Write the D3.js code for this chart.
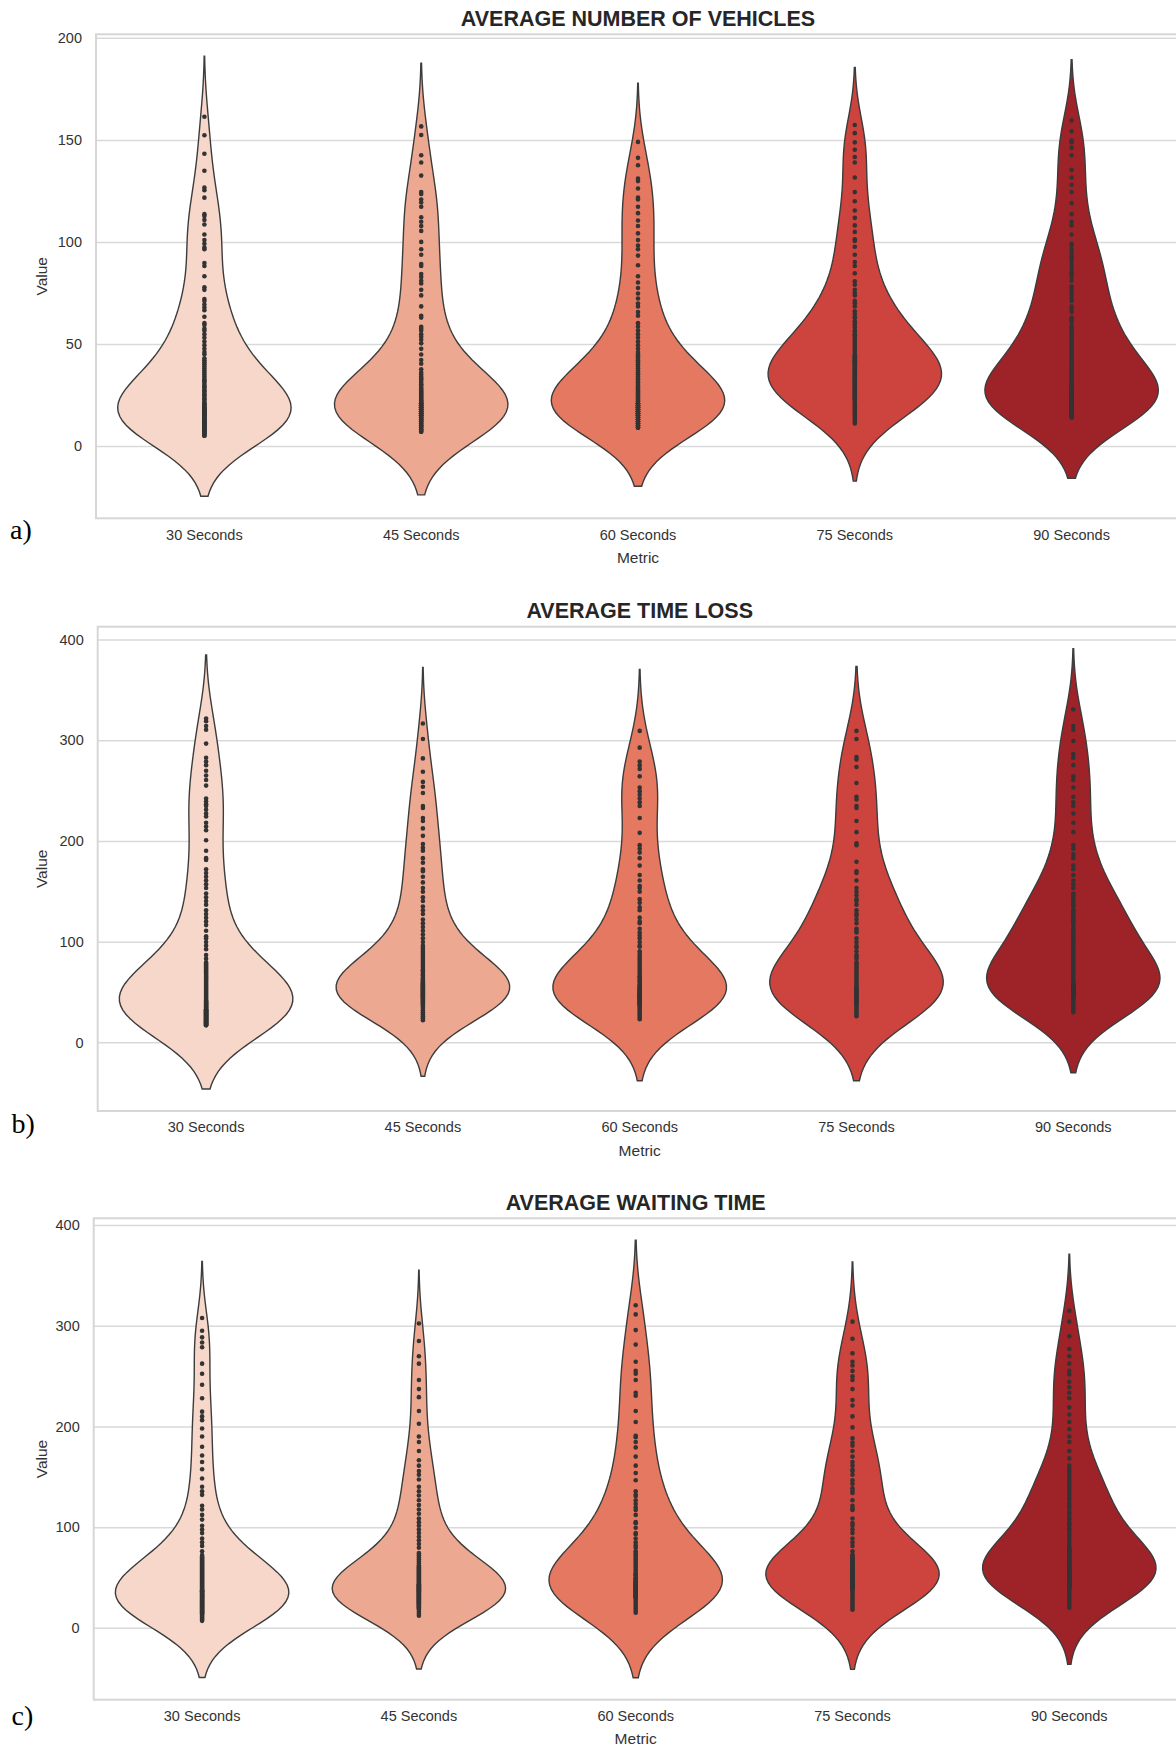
<!DOCTYPE html>
<html>
<head>
<meta charset="utf-8">
<script src="https://cdn.jsdelivr.net/npm/d3@7"></script>
<style>
  body { margin: 0; background: #fff; }
  svg { display: block; font-family: "Liberation Sans", Arial, sans-serif; }
</style>
</head>
<body>
<svg id="chart" width="1176" height="1748"></svg>
<script>
// categories shared by the three panels
var categories = ["30 Seconds", "45 Seconds", "60 Seconds", "75 Seconds", "90 Seconds"];
var palette = ["#f6d7c9", "#eda891", "#e57860", "#cc443d", "#9e2329"];

// average number of vehicles
var veh30 = [161.3,152.3,143.2,134.9,126.6,125.3,121.7,113.6,112.7,110.8,108.5,103.6,100.9,99.1,97.3,96.4,89.7,88.2,83.2,77.8,76.5,72,71.1,69.3,67.8,66.5,63.3,60.2,59.3,57.5,56.6,54.8,53,51.2,49.4,47.6,
  5,5,6,6,6,7,7,7,8,8,8,9,9,9,10,10,10,11,11,11,12,12,12,13,13,13,14,14,14,15,15,15,16,16,16,17,17,17,18,18,18,19,19,20,20,21,21,22,23,23,24,25,25,26,27,27,28,29,29,30,31,32,32,33,34,35,36,37,38,39,40,41,42,43,45,46];
var veh45 = [156.6,152.4,142.5,138.9,132.5,124.4,123.5,120.8,119.3,117.2,112.1,109.9,107.8,105.4,100,96.4,93.7,89.2,88.2,84.3,82.8,81,79.6,76.5,73.8,68.4,63.8,62.9,58.4,57.5,56.6,54.8,53.5,52.1,50.3,47.6,44.8,42.1,40.3,37.6,
  7,7,8,8,8,9,9,10,10,10,11,11,12,12,12,13,13,13,14,14,14,15,15,15,16,16,16,17,17,17,18,18,18,19,19,19,20,20,20,21,21,21,22,22,22,23,23,24,24,25,25,26,26,27,27,28,28,29,30,30,31,32,33,33,34,35,36];
var veh60 = [149,141.2,137.6,131.1,129.8,126.2,121.7,120.8,117.2,114.1,110.5,107.8,104.2,100.9,98.2,96.4,93.3,88.6,83.2,80.1,77.4,74.7,72.3,69.8,68.4,65.6,63.8,60.2,58.4,56.6,54.8,53,51.2,49.4,47.6,
  9,9,9,10,10,10,11,11,11,12,12,12,13,13,13,14,14,14,15,15,15,16,16,16,17,17,17,18,18,18,19,19,19,20,20,20,21,21,21,22,22,23,23,24,24,25,25,26,26,27,27,28,28,29,29,30,31,31,32,33,33,34,35,35,36,37,38,39,40,41,42,43,44,45,46];
var veh75 = [157.3,153.3,148.8,145.2,141.6,138.9,131.6,124.4,119.9,115.4,111.8,108.1,104.9,101.3,100.5,97.6,93.7,90.1,88.2,84.6,80.7,76.5,73.8,71.1,68.4,64.7,62.9,61.1,59.3,56.6,54.8,53,51.2,
  11,12,13,14,15,16,17,18,19,20,21,22,23,23,24,24,25,25,26,26,27,27,28,28,29,29,30,30,31,31,32,32,33,33,34,34,35,35,36,36,37,37,38,38,39,39,40,40,41,41,42,42,43,43,44,44,45,46,47,48,49,50,52,54,56,58,60,63,66,70,75,79];
var veh90 = [159.5,154.2,149.7,148.8,146.1,142.5,135.3,131.6,128,124.4,119,113.6,109.9,108.1,103.6,99.1,98.2,96.4,94.6,91.9,90.1,88.2,86.4,84.6,82.8,81,78.3,75.6,73.8,71.1,68.4,65.6,62.9,61.1,59.3,
  14,14,15,15,15,16,16,16,17,17,17,18,18,18,19,19,19,20,20,20,21,21,21,22,22,22,23,23,23,24,24,24,25,25,25,26,26,27,27,28,28,29,29,30,30,31,31,32,33,34,35,36,37,38,39,40,41,42,43,44,45,46,47,48,49,50,51,52,53,54,55,56,57,58,62,67,72,77,85,93];

// average time loss
var loss30 = [321.4,318.8,314,310.3,296.6,282.6,278.9,275.2,269.7,264.9,260.4,254.9,242,239,236.4,234.6,230.9,227.2,224.3,218,214.3,210.6,200.6,190.2,182.9,181,171.8,168.1,164.4,160.7,157,153.3,147.8,144.1,140.4,136.7,131.1,127.4,123.8,120.1,116.4,110.8,105.3,103.4,99.7,96,92.4,86.8,83.1,79.4,
  17,17,18,18,19,19,20,20,21,21,22,22,23,23,24,24,25,25,26,26,27,27,28,28,29,29,30,30,31,31,32,32,33,33,34,34,35,35,36,36,37,37,38,38,39,39,40,40,41,41,42,43,44,45,46,47,48,49,50,51,52,53,54,55,56,57,58,59,60,61,62,63,64,65,66,67,68,69,70,71,72,73,74,75,76,77,78];
var loss45 = [316.6,301.1,281.9,268.6,258.6,253.8,247.5,234.6,232.7,222.8,219.8,212.4,205,196.9,193.2,190.2,182.9,178.4,171.8,169.9,164.4,158.8,153.3,149.6,144.1,140.4,134.8,131.1,127.4,121.9,118.2,114.5,110.8,107.1,103.4,99.7,96,
  22,24,26,28,30,32,34,36,36,38,38,39,40,40,41,42,42,43,44,44,45,45,46,46,47,47,48,48,49,49,50,50,51,51,52,52,53,53,54,54,55,55,56,56,57,57,58,58,59,60,60,61,62,63,64,66,67,68,70,71,72,74,76,78,80,82,84,86,88,90,92,94];
var loss60 = [309.2,292.6,278.9,275.2,271.5,264.1,253,249.4,245.7,242,238.3,234.6,222.8,208,195.8,192.1,188.4,182.9,175.5,166.2,160.7,155.2,153.3,149.6,142.2,138.5,131.1,123.8,118.2,112.7,109,103.4,99.7,96,90.5,
  23,25,27,29,31,33,35,36,37,38,38,39,40,40,41,42,42,43,44,44,45,45,46,46,47,47,48,48,49,50,50,51,52,52,53,54,54,55,56,57,58,60,61,62,64,65,66,68,70,72,74,76,78,80,82,84,86,88,95,106,120,134];
var loss75 = [309.2,301.1,283.3,280.7,273.4,257.5,243.8,241.2,234.6,232.7,219.8,208.7,197.6,195.8,179.2,169.9,168.1,160.7,153.3,149.6,145.9,140.4,136.7,131.1,125.6,121.9,118.2,112.7,109,103.4,99.7,94.2,90.5,86.8,83.1,79.4,
  26,28,30,32,34,36,37,38,39,40,41,42,43,44,45,46,47,48,49,50,51,52,53,54,55,56,58,60,62,64,66,68,70,72,74,76,78,85,96,111,128,142];
var loss90 = [330.6,314,310.3,299.2,286.3,282.6,275.2,264.1,260.4,253,243.8,238.3,234.6,227.2,218,208.7,195.8,192.1,186.6,182.9,175.5,171.8,166.2,160.7,157,153.3,147.8,144.1,138.5,134.8,131.1,127.4,123.8,120.1,116.4,110.8,107.1,103.4,99.7,
  30,32,34,36,38,40,42,44,45,46,46,47,47,48,48,49,49,50,50,51,51,52,52,53,53,54,54,55,55,56,56,57,57,58,58,59,60,62,64,66,68,70,72,74,76,78,80,82,84,86,88,90,92,94,96,98,101,105,109,113,118,122,126,130,136,141,146];

// average waiting time
var wait30 = [307.7,295,288.5,283.4,278.7,262.4,252.3,241.4,228.1,214.7,210,206.3,198,190,179.9,171.2,164.7,157.5,148.4,140.1,135.7,132.1,121.3,117.6,112.2,107.5,101.4,97.7,94.1,88.7,85.1,81.4,76,72.4,
  7,8,9,10,11,12,13,14,14,15,15,16,16,17,17,18,18,19,19,20,20,21,21,22,22,23,23,24,24,25,25,26,26,27,27,28,28,29,29,30,30,31,31,32,32,33,33,34,34,35,35,36,36,37,37,38,39,40,41,42,43,44,45,46,47,48,49,50,51,52,53,54,55,56,57,58,59,60,61,62,63,64,65,66,67,68,69,70,71];
var wait45 = [302.3,284.9,269.7,262.4,246.2,237.1,229.1,215.4,202.7,190,184.6,175.6,166.5,161.1,155.7,152,147.3,140.1,135.7,131.4,126.7,122,117.6,113.3,108.6,105,101.4,97.7,94.1,90.5,86.9,83.3,79.6,74.2,
  12,14,16,18,19,20,20,21,22,22,23,24,24,25,25,26,26,27,27,28,28,29,29,30,30,31,31,32,32,33,33,34,34,35,35,36,36,37,37,38,38,39,39,40,40,41,41,42,42,43,43,44,45,46,47,48,49,50,51,52,53,54,55,56,57,58,59,60,61,62,64,66,68,70,72];
var wait60 = [320.4,311.3,295.7,281.3,264.3,255.2,252.3,246.2,233.5,230.6,215.4,204.5,190.8,189.3,184.6,179.2,170.1,161.1,153.8,146.6,135.7,132.1,126.7,123.1,119.5,112.2,105,99.5,94.1,88.7,85.1,79.6,76,
  15,17,19,21,23,25,27,29,30,31,31,32,33,33,34,35,35,36,37,37,38,39,39,40,41,41,42,43,43,44,45,45,46,47,48,49,50,52,53,54,56,58,60,62,64,66,68,70,72,74,82,93,104,117,131];
var wait75 = [304.1,287.1,272.6,264.3,260.6,255.2,249.8,246.2,237.1,226.2,220.8,210,199.1,188.2,181,175.6,170.1,164.7,161.1,155.7,152,146.6,143,138.6,133.9,126.7,121.3,118.4,108.6,101.4,97.7,94.1,88.7,85.1,81.4,76,72.4,
  18,20,22,24,26,28,30,32,34,36,38,39,40,41,41,42,43,43,44,45,45,46,47,47,48,49,49,50,51,51,52,53,53,54,55,55,56,57,57,58,59,60,61,62,63,64,65,66,67,68,69,70,72,104,117,136,157,184];
var wait90 = [314.9,304.1,289.6,276.9,269.7,262.4,255.2,251.6,244.3,238.9,233.5,228.1,219,211.8,204.5,197.3,190,184.6,175.6,168.3,161.1,155.7,150.2,144.8,139.4,133.9,128.5,123.1,119.5,114,108.6,103.2,97.7,
  20,22,24,26,28,30,32,34,36,38,39,40,41,42,43,43,44,45,45,46,47,47,48,49,49,50,51,51,52,53,53,54,55,55,56,57,57,58,59,60,61,62,63,64,65,66,67,68,69,70,71,72,73,74,75,76,77,78,79,80,83,86,89,92,95,99,102,105,108,111,116,121,126,131,137,142,147,153,158];

var yTicksVeh = [0, 50, 100, 150, 200];
var yTicksTime = [0, 100, 200, 300, 400];

var panels = [
  { title: "AVERAGE NUMBER OF VEHICLES", tag: "a)", series: [veh30, veh45, veh60, veh75, veh90], ticks: yTicksVeh,
    top: 34.3, bottom: 518.3, left: 96, tagY: 539, tagX: 10 },
  { title: "AVERAGE TIME LOSS", tag: "b)", series: [loss30, loss45, loss60, loss75, loss90], ticks: yTicksTime,
    top: 626.7, bottom: 1111, left: 97.7, tagY: 1133, tagX: 11.5 },
  { title: "AVERAGE WAITING TIME", tag: "c)", series: [wait30, wait45, wait60, wait75, wait90], ticks: yTicksTime,
    top: 1218.3, bottom: 1699.7, left: 93.7, tagY: 1724.5, tagX: 11.5 }
];

var plotW = 1084;
var svg = d3.select("#chart");
svg.append("rect").attr("width", 1176).attr("height", 1748).attr("fill", "#fff");

// gaussian kde, scott bandwidth, cut = 2, 100 grid points (like seaborn)
function violinShape(values) {
  var n = values.length;
  var bw = d3.deviation(values) * Math.pow(n, -0.2);
  var lo = d3.min(values) - 2 * bw, hi = d3.max(values) + 2 * bw;
  var grid = d3.range(100).map(function(i) { return lo + (hi - lo) * i / 99; });
  var dens = grid.map(function(g) {
    return d3.sum(values, function(v) { var z = (g - v) / bw; return Math.exp(-0.5 * z * z); });
  });
  var mx = d3.max(dens);
  return grid.map(function(g, i) { return { v: g, d: dens[i] / mx }; });
}

panels.forEach(function(p) {
  var shapes = p.series.map(violinShape);
  var lo = d3.min(shapes, function(s) { return s[0].v; });
  var hi = d3.max(shapes, function(s) { return s[s.length - 1].v; });
  var pad = (hi - lo) * 0.05;

  var x = d3.scaleBand().domain(categories).range([p.left, p.left + plotW]);
  var y = d3.scaleLinear().domain([lo - pad, hi + pad]).range([p.bottom, p.top]);
  var half = x.bandwidth() * 0.4;

  var g = svg.append("g");

  // grid
  g.append("g").attr("class", "grid")
    .attr("transform", "translate(" + p.left + ",0)")
    .call(d3.axisLeft(y).tickValues(p.ticks).tickSize(-plotW).tickFormat(""))
    .call(function(s) {
      s.select(".domain").remove();
      s.selectAll("line").attr("stroke", "#d9d9d9").attr("stroke-width", 1.5);
    });

  // frame
  g.append("rect")
    .attr("x", p.left).attr("y", p.top)
    .attr("width", plotW).attr("height", p.bottom - p.top)
    .attr("fill", "none").attr("stroke", "#d6d6d6").attr("stroke-width", 2);

  // y tick labels
  g.append("g")
    .attr("transform", "translate(" + p.left + ",0)")
    .call(d3.axisLeft(y).tickValues(p.ticks).tickSize(0).tickPadding(14))
    .call(function(s) {
      s.select(".domain").remove();
      s.selectAll("text").attr("fill", "#333").style("font-size", "14.5px")
        .style("font-family", "'Liberation Sans', Arial, sans-serif");
    });

  // x tick labels
  g.append("g")
    .attr("transform", "translate(0," + p.bottom + ")")
    .call(d3.axisBottom(x).tickSize(0).tickPadding(11))
    .call(function(s) {
      s.select(".domain").remove();
      s.selectAll("text").attr("fill", "#333").style("font-size", "14.5px")
        .style("font-family", "'Liberation Sans', Arial, sans-serif");
    });

  // violins
  categories.forEach(function(c, i) {
    var cx = x(c) + x.bandwidth() / 2;
    var area = d3.area()
      .y(function(d) { return y(d.v); })
      .x0(function(d) { return cx - d.d * half; })
      .x1(function(d) { return cx + d.d * half; });
    g.append("path").datum(shapes[i])
      .attr("d", area)
      .attr("fill", palette[i])
      .attr("stroke", "#3c3c3c")
      .attr("stroke-width", 1.4);
    g.selectAll(null).data(p.series[i]).enter().append("circle")
      .attr("cx", cx).attr("cy", function(d) { return y(d); })
      .attr("r", 2.3).attr("fill", "#333");
  });

  // labels
  var midX = p.left + plotW / 2;
  g.append("text").attr("x", midX).attr("y", p.top - 8.5)
    .attr("text-anchor", "middle").attr("fill", "#262626")
    .style("font-size", "21.5px").style("font-weight", "bold")
    .text(p.title);
  g.append("text").attr("x", midX).attr("y", p.bottom + 44.5)
    .attr("text-anchor", "middle").attr("fill", "#333").style("font-size", "15.5px")
    .text("Metric");
  g.append("text")
    .attr("transform", "translate(47," + ((p.top + p.bottom) / 2) + ") rotate(-90)")
    .attr("text-anchor", "middle").attr("fill", "#333").style("font-size", "15.5px")
    .text("Value");
  g.append("text").attr("x", p.tagX).attr("y", p.tagY)
    .attr("fill", "#000").style("font-family", "'Liberation Serif', 'Times New Roman', serif")
    .style("font-size", "28px").text(p.tag);
});
</script>
</body>
</html>
